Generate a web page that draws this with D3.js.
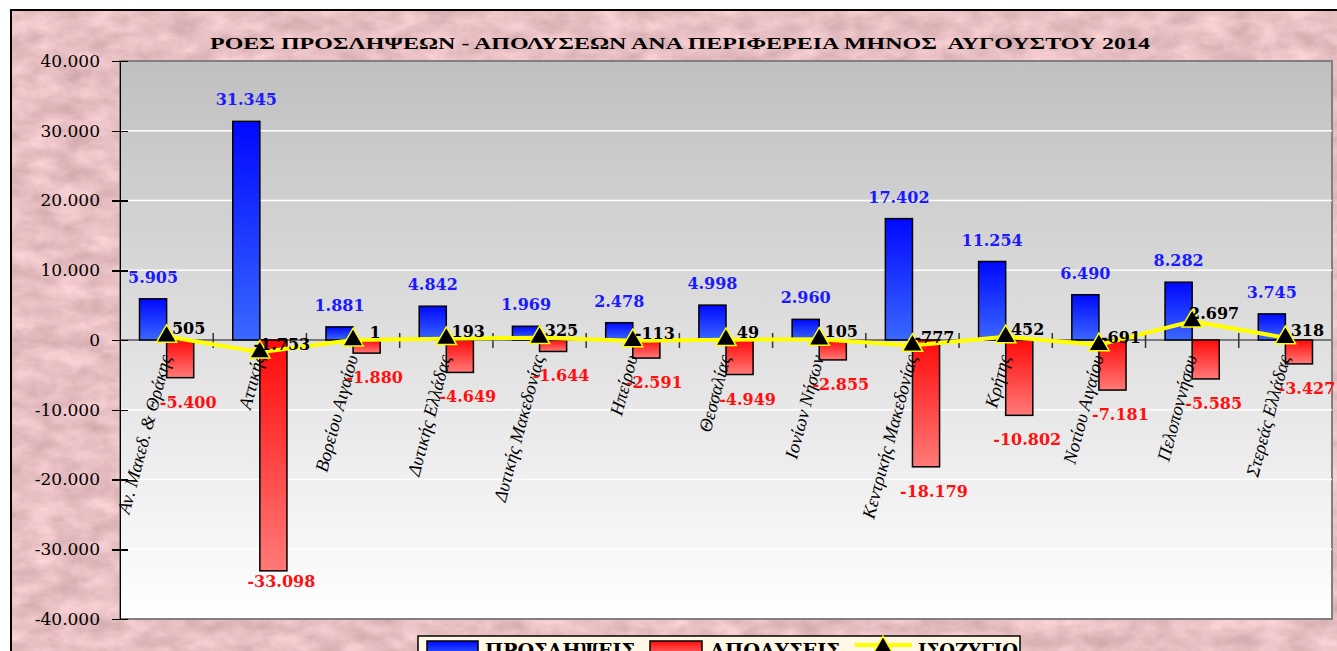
<!doctype html>
<html lang="el">
<head>
    <meta charset="UTF-8">
    <title>ΡΟΕΣ ΠΡΟΣΛΗΨΕΩΝ - ΑΠΟΛΥΣΕΩΝ ΑΝΑ ΠΕΡΙΦΕΡΕΙΑ ΜΗΝΟΣ ΑΥΓΟΥΣΤΟΥ 2014</title>
    <style>
        html, body { margin: 0; padding: 0; background: #fff; overflow: hidden; }
        .chart { display: block; }
        .axis text { font: 17px "DejaVu Serif", serif; fill: #000; }
        .axis path, .axis line { stroke: #000; stroke-width: 1.5; shape-rendering: crispEdges; }
        .cat-label { font: italic 18.5px "Liberation Serif", serif; fill: #000; }
        .val { font: bold 16px "DejaVu Serif", serif; }
        .legend text { font: bold 18px "DejaVu Serif", serif; fill: #000; }
    </style>
</head>
<body>
<svg class="chart"></svg>

<script src="https://d3js.org/d3.v7.min.js"></script>
<script>
    // data
    var categories = ["Αν. Μακεδ. & Θράκης", "Αττικής", "Βορείου Αιγαίου", "Δυτικής Ελλάδας",
        "Δυτικής Μακεδονίας", "Ηπείρου", "Θεσσαλίας", "Ιονίων Νήσων", "Κεντρικής Μακεδονίας",
        "Κρήτης", "Νοτίου Αιγαίου", "Πελοποννήσου", "Στερεάς Ελλάδας"];
    var hires = [5905, 31345, 1881, 4842, 1969, 2478, 4998, 2960, 17402, 11254, 6490, 8282, 3745];
    var fires = [-5400, -33098, -1880, -4649, -1644, -2591, -4949, -2855, -18179, -10802, -7181, -5585, -3427];
    var balance = [505, -1753, 1, 193, 325, -113, 49, 105, -777, 452, -691, 2697, 318];
    var yTicks = [-40000, -30000, -20000, -10000, 0, 10000, 20000, 30000, 40000];
    var seriesNames = ["ΠΡΟΣΛΗΨΕΙΣ", "ΑΠΟΛΥΣΕΙΣ", "ΙΣΟΖΥΓΙΟ"];
    var title = "ΡΟΕΣ ΠΡΟΣΛΗΨΕΩΝ - ΑΠΟΛΥΣΕΩΝ ΑΝΑ ΠΕΡΙΦΕΡΕΙΑ ΜΗΝΟΣ  ΑΥΓΟΥΣΤΟΥ 2014";

    var totalWidth = 1337, totalHeight = 651;
    var plot = {left: 120, right: 1332, top: 61, bottom: 619};

    var locale = d3.formatLocale({decimal: ",", thousands: ".", grouping: [3], currency: ["", " €"], minus: "-"});
    var fmt = locale.format(",d");

    var svg = d3.select(".chart")
        .attr("width", totalWidth)
        .attr("height", totalHeight);

    var defs = svg.append("defs");

    // mottled pink paper background
    var paper = defs.append("filter").attr("id", "paper")
        .attr("x", 0).attr("y", 0).attr("width", "100%").attr("height", "100%")
        .attr("color-interpolation-filters", "sRGB");
    paper.append("feTurbulence").attr("type", "fractalNoise")
        .attr("baseFrequency", "0.035 0.06").attr("numOctaves", 4).attr("seed", 11);
    paper.append("feColorMatrix").attr("type", "matrix")
        .attr("values", "0.22 0 0 0 0.80  0.22 0 0 0 0.64  0.22 0 0 0 0.65  0 0 0 0 1");

    function vGradient(id, top, bottom) {
        var g = defs.append("linearGradient").attr("id", id)
            .attr("x1", 0).attr("y1", 0).attr("x2", 0).attr("y2", 1);
        g.append("stop").attr("offset", "0%").attr("stop-color", top);
        g.append("stop").attr("offset", "100%").attr("stop-color", bottom);
    }
    vGradient("plotBg", "#c0c0c0", "#ffffff");
    vGradient("blueBar", "#0008ff", "#3a68ff");
    vGradient("redBar", "#ff0a0a", "#ff7a78");

    // frame
    svg.append("rect")
        .attr("x", 11).attr("y", 10)
        .attr("width", totalWidth + 10).attr("height", totalHeight + 10)
        .attr("fill", "#e8c0c2")
        .attr("filter", "url(#paper)");
    svg.append("rect")
        .attr("x", 11).attr("y", 10)
        .attr("width", totalWidth + 10).attr("height", totalHeight + 10)
        .attr("fill", "none").attr("stroke", "#000").attr("stroke-width", 2);

    // title
    svg.append("text")
        .attr("x", 680).attr("y", 49)
        .attr("text-anchor", "middle")
        .attr("textLength", 940).attr("lengthAdjust", "spacingAndGlyphs")
        .style("font", "bold 17px 'Liberation Serif', serif")
        .style("white-space", "pre")
        .text(title);

    var x = d3.scaleBand().domain(categories).range([plot.left, plot.right]).padding(0);
    var xSub = d3.scaleBand().domain(["hires", "fires"]).range([0, x.bandwidth()])
        .paddingInner(0).paddingOuter(0.72);
    var y = d3.scaleLinear().domain([-40000, 40000]).range([plot.bottom, plot.top]);

    // plot area
    svg.append("rect")
        .attr("x", plot.left).attr("y", plot.top)
        .attr("width", plot.right - plot.left).attr("height", plot.bottom - plot.top)
        .attr("fill", "url(#plotBg)")
        .attr("stroke", "#808080").attr("stroke-width", 2);

    // gridlines
    svg.append("g").selectAll("line")
        .data(yTicks.filter(function(d) { return d > -40000 && d < 40000; }))
        .enter().append("line")
        .attr("x1", plot.left).attr("x2", plot.right)
        .attr("y1", function(d) { return y(d); })
        .attr("y2", function(d) { return y(d); })
        .attr("stroke", "#ffffff").attr("stroke-width", 1.5);

    // zero line with category ticks
    svg.append("line")
        .attr("x1", plot.left).attr("x2", plot.right)
        .attr("y1", y(0)).attr("y2", y(0))
        .attr("stroke", "#7a7a7a").attr("stroke-width", 2);
    svg.append("g").selectAll("line")
        .data(categories.slice(1))
        .enter().append("line")
        .attr("x1", function(d) { return x(d); })
        .attr("x2", function(d) { return x(d); })
        .attr("y1", y(0) - 7).attr("y2", y(0) + 8)
        .attr("stroke", "#333").attr("stroke-width", 1.5);

    // y-axis
    var yAxis = svg.append("g").attr("class", "axis")
        .attr("transform", "translate(" + plot.left + ",0)")
        .call(d3.axisLeft(y).tickValues(yTicks).tickSize(8).tickPadding(12).tickFormat(fmt));
    yAxis.selectAll(".tick line").attr("x1", 8);

    var rows = categories.map(function(c, i) {
        return {cat: c, hires: hires[i], fires: fires[i], balance: balance[i]};
    });

    // bars
    svg.append("g").selectAll("rect")
        .data(rows).enter().append("rect")
        .attr("x", function(d) { return x(d.cat) + xSub("hires"); })
        .attr("y", function(d) { return y(d.hires); })
        .attr("width", xSub.bandwidth())
        .attr("height", function(d) { return y(0) - y(d.hires); })
        .attr("fill", "url(#blueBar)")
        .attr("stroke", "#000").attr("stroke-width", 1.5);

    svg.append("g").selectAll("rect")
        .data(rows).enter().append("rect")
        .attr("x", function(d) { return x(d.cat) + xSub("fires"); })
        .attr("y", y(0))
        .attr("width", xSub.bandwidth())
        .attr("height", function(d) { return y(d.fires) - y(0); })
        .attr("fill", "url(#redBar)")
        .attr("stroke", "#000").attr("stroke-width", 1.5);

    // category labels
    svg.append("g").selectAll("text")
        .data(categories).enter().append("text")
        .attr("class", "cat-label")
        .attr("text-anchor", "end")
        .attr("transform", function(d) {
            return "translate(" + (x(d) + x.bandwidth() / 2 + 5) + "," + (y(0) + 17) + ") rotate(-75)";
        })
        .text(function(d) { return d; });

    // balance line
    var cx = function(d) { return x(d.cat) + x.bandwidth() / 2; };
    svg.append("path")
        .datum(rows)
        .attr("fill", "none")
        .attr("stroke", "#ffff00").attr("stroke-width", 4)
        .attr("stroke-linejoin", "round")
        .attr("d", d3.line().x(cx).y(function(d) { return y(d.balance); }));

    svg.append("g").selectAll("path")
        .data(rows).enter().append("path")
        .attr("transform", function(d) { return "translate(" + cx(d) + "," + y(d.balance) + ")"; })
        .attr("d", d3.symbol().type(d3.symbolTriangle).size(180))
        .attr("fill", "#000")
        .attr("stroke", "#ffff00").attr("stroke-width", 1.5);

    // value labels
    svg.append("g").selectAll("text")
        .data(rows).enter().append("text")
        .attr("class", "val")
        .attr("fill", "#1a1aff")
        .attr("text-anchor", "middle")
        .attr("x", function(d) { return x(d.cat) + xSub("hires") + xSub.bandwidth() / 2; })
        .attr("y", function(d) { return y(d.hires) - 16; })
        .text(function(d) { return fmt(d.hires); });

    svg.append("g").selectAll("text")
        .data(rows).enter().append("text")
        .attr("class", "val")
        .attr("fill", "#ff1010")
        .attr("text-anchor", "middle")
        .attr("x", function(d) { return x(d.cat) + xSub("fires") + xSub.bandwidth() / 2 + 8; })
        .attr("y", function(d) { return Math.min(y(d.fires) + 30, plot.bottom - 32); })
        .text(function(d) { return fmt(d.fires); });

    svg.append("g").selectAll("text")
        .data(rows).enter().append("text")
        .attr("class", "val")
        .attr("fill", "#000")
        .attr("text-anchor", "middle")
        .attr("x", function(d) { return cx(d) + 22; })
        .attr("y", function(d) { return y(d.balance) - 2; })
        .text(function(d) { return fmt(d.balance); });

    // legend (cut off by the bottom edge, as in the original)
    var legend = svg.append("g").attr("class", "legend");
    legend.append("rect")
        .attr("x", 418).attr("y", 636).attr("width", 602).attr("height", 40)
        .attr("fill", "#fff8e6").attr("stroke", "#000").attr("stroke-width", 1.5);
    legend.append("rect")
        .attr("x", 427).attr("y", 641).attr("width", 51).attr("height", 16)
        .attr("fill", "url(#blueBar)").attr("stroke", "#000").attr("stroke-width", 1.5);
    legend.append("text").attr("x", 485).attr("y", 657)
        .attr("textLength", 150).attr("lengthAdjust", "spacingAndGlyphs").text(seriesNames[0]);
    legend.append("rect")
        .attr("x", 650).attr("y", 641).attr("width", 52).attr("height", 16)
        .attr("fill", "url(#redBar)").attr("stroke", "#000").attr("stroke-width", 1.5);
    legend.append("text").attr("x", 710).attr("y", 657)
        .attr("textLength", 130).attr("lengthAdjust", "spacingAndGlyphs").text(seriesNames[1]);
    legend.append("line")
        .attr("x1", 855).attr("x2", 912).attr("y1", 645).attr("y2", 645)
        .attr("stroke", "#ffff00").attr("stroke-width", 4);
    legend.append("path")
        .attr("transform", "translate(883,648)")
        .attr("d", d3.symbol().type(d3.symbolTriangle).size(180))
        .attr("fill", "#000").attr("stroke", "#ffff00").attr("stroke-width", 1.5);
    legend.append("text").attr("x", 918).attr("y", 657)
        .attr("textLength", 100).attr("lengthAdjust", "spacingAndGlyphs").text(seriesNames[2]);
</script>
</body>
</html>
